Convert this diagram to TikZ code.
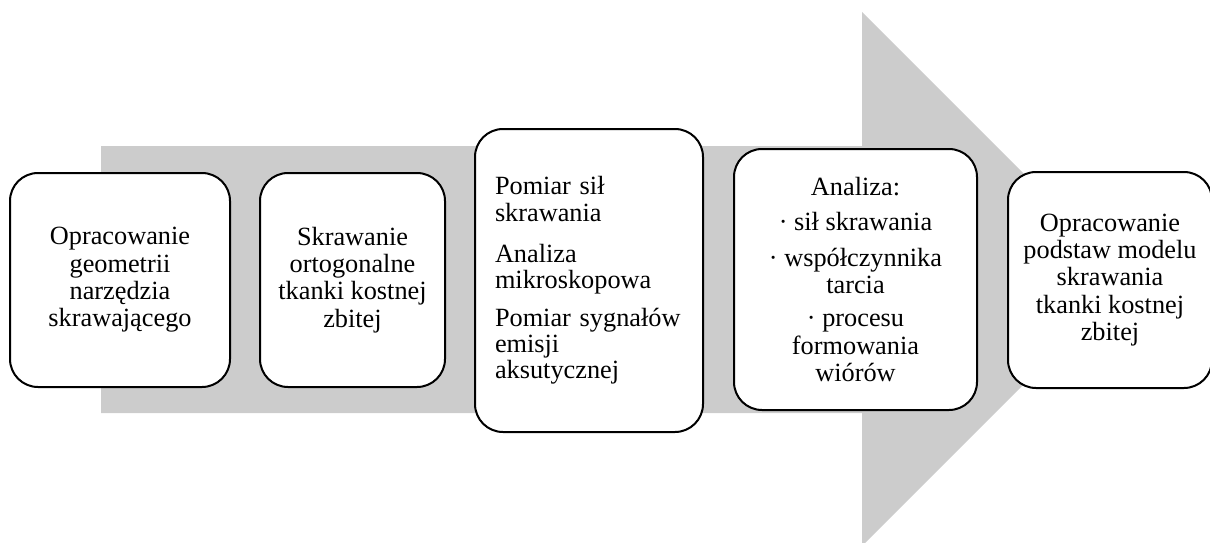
\documentclass[tikz,border=0pt]{standalone}
\usepackage{fontspec}
\setmainfont{Liberation Serif}
\usetikzlibrary{positioning}

\begin{document}
\begin{tikzpicture}[x=1pt,y=-1pt,
  stage/.style={draw=black, line width=2pt, fill=white, rounded corners=28pt,
    inner sep=0pt, align=center, font=\fontsize{26.3}{27.3}\selectfont}]
\useasboundingbox (0,0) rectangle (1210,543);

% big grey arrow behind the stages
\begin{scope}
\clip (0,0) rectangle (1210,543);
\fill[gray!40] (101,146) -- (862,146) -- (862,12) -- (1129,279) -- (862,546)
  -- (862,413) -- (101,413) -- cycle;
\end{scope}

\node[stage, minimum width=220pt, minimum height=214pt] (geom) at (120,280)
  {Opracowanie\\geometrii\\narzędzia\\skrawającego};
\node[stage, minimum width=185pt, minimum height=214pt] (cut) at (352.5,280)
  {Skrawanie\\ortogonalne\\tkanki kostnej\\zbitej};
\node[stage, minimum width=228pt, minimum height=303pt, text width=188pt, align=left,
  font=\fontsize{26.3}{26.3}\selectfont] (meas) at (589,280.5)
  {Pomiar sił\\skrawania\\[15pt]Analiza\\mikroskopowa\\[11pt]Pomiar sygnałów\\emisji\\aksutycznej};
\node[stage, minimum width=243pt, minimum height=261pt] (anal) at (855.5,279.5)
  {Analiza:\\[8pt]· sił skrawania\\[8pt]· współczynnika\\tarcia\\[6pt]· procesu\\formowania\\wiórów};
\node[stage, minimum width=204pt, minimum height=216pt] (model) at (1110,280)
  {Opracowanie\\podstaw modelu\\skrawania\\tkanki kostnej\\zbitej};

\end{tikzpicture}
\end{document}
